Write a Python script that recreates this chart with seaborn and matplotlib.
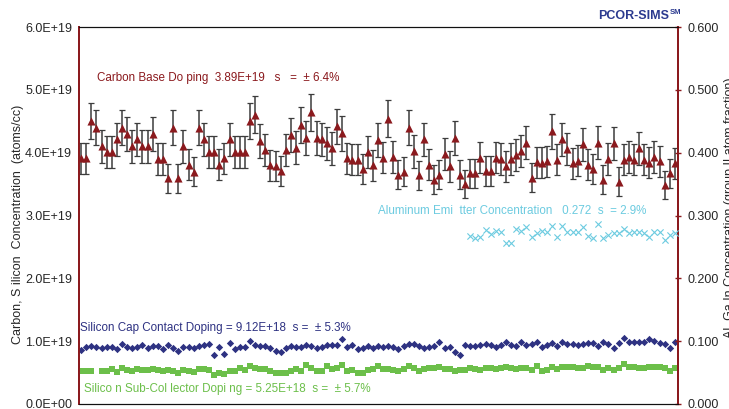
import numpy as np
import pandas as pd
import matplotlib
matplotlib.use("Agg")
import matplotlib.pyplot as plt
import seaborn as sns

# values (carbon / silicon in units of 1E19 atoms/cc)
carbon = [3.91, 3.91, 4.50, 4.40, 4.10, 4.01, 4.01, 4.21, 4.40, 4.30,
          4.10, 4.21, 4.10, 4.10, 4.30, 3.90, 3.90, 3.59, 4.40, 3.59,
          4.10, 3.81, 3.70, 4.40, 4.21, 4.01, 4.01, 3.81, 3.91, 4.21,
          4.01, 4.01, 4.01, 4.50, 4.60, 4.19, 4.04, 3.80, 3.79,
          3.71, 4.04, 4.28, 4.08, 4.44, 4.23, 4.64, 4.24, 4.21, 4.15,
          4.07, 4.42, 4.31, 3.91, 3.89, 3.89, 3.74, 4.01, 3.80, 4.20,
          3.92, 4.54, 3.93, 3.65, 3.70, 4.40, 4.02, 3.64, 4.21, 3.81,
          3.57, 3.65, 3.98, 3.78, 4.23, 3.65, 3.50, 3.67, 3.67,
          3.92, 3.71, 3.71, 3.92, 3.90, 3.78, 3.90, 3.96, 4.03, 4.16,
          3.60, 3.85, 3.84, 3.86, 4.34, 3.89, 4.21, 4.06, 3.83, 3.87,
          4.13, 3.81, 3.74, 4.16, 3.57, 3.90, 4.15, 3.54, 3.89, 3.93,
          3.89, 4.07, 3.89, 3.84, 3.93, 3.86, 3.49, 3.67, 3.83]

si_cap = [0.86, 0.91, 0.93, 0.90, 0.89, 0.90, 0.91, 0.87, 0.96, 0.90,
          0.89, 0.91, 0.94, 0.89, 0.92, 0.93, 0.87, 0.94, 0.89, 0.85,
          0.91, 0.90, 0.89, 0.93, 0.94, 0.96, 0.78, 0.90, 0.80, 0.97,
          0.87, 0.90, 0.90, 1.00, 0.94, 0.93, 0.92, 0.89, 0.85,
          0.82, 0.89, 0.93, 0.90, 0.90, 0.94, 0.92, 0.89, 0.90, 0.94,
          0.94, 0.94, 1.03, 0.90, 0.94, 0.87, 0.89, 0.92, 0.89, 0.93,
          0.90, 0.92, 0.91, 0.87, 0.92, 0.95, 0.95, 0.92, 0.89, 0.90,
          0.92, 0.98, 0.89, 0.90, 0.83, 0.78, 0.94, 0.92, 0.92,
          0.94, 0.96, 0.94, 0.90, 0.94, 0.99, 0.94, 0.92, 0.98, 0.94,
          0.96, 0.99, 0.90, 0.94, 0.97, 0.93, 0.99, 0.96, 0.96, 0.94,
          0.96, 0.97, 0.97, 0.92, 0.98, 0.96, 0.89, 0.97, 1.05, 0.99,
          0.98, 0.99, 0.98, 1.03, 1.00, 0.97, 0.96, 0.89, 0.99]

si_sub = [0.52, 0.53, 0.53, np.nan, 0.52, 0.52, 0.55, 0.51, 0.57, 0.54,
          0.52, 0.55, 0.54, 0.54, 0.55, 0.54, 0.52, 0.54, 0.53, 0.49,
          0.54, 0.53, 0.51, 0.55, 0.55, 0.54, 0.46, 0.50, 0.48, 0.53,
          0.53, 0.58, 0.54, 0.60, 0.57, 0.55, 0.55, 0.52, 0.49,
          0.49, 0.50, 0.53, 0.55, 0.53, 0.62, 0.58, 0.53, 0.53, 0.60,
          0.55, 0.57, 0.62, 0.52, 0.54, 0.50, 0.50, 0.54, 0.55, 0.60,
          0.55, 0.55, 0.54, 0.53, 0.55, 0.60, 0.57, 0.53, 0.55, 0.57,
          0.57, 0.59, 0.55, 0.55, 0.53, 0.54, 0.54, 0.57, 0.55,
          0.54, 0.57, 0.57, 0.55, 0.57, 0.59, 0.57, 0.55, 0.57, 0.57,
          0.54, 0.60, 0.52, 0.54, 0.59, 0.55, 0.59, 0.59, 0.59, 0.57,
          0.58, 0.60, 0.59, 0.59, 0.54, 0.58, 0.54, 0.58, 0.64, 0.59,
          0.59, 0.57, 0.57, 0.59, 0.59, 0.59, 0.58, 0.53, 0.58]

# aluminum atom fraction, measured on points 77..117 only
al_start = 77
aluminum = [0.267, 0.264, 0.266, 0.277, 0.271, 0.276, 0.273, 0.257, 0.257, 0.279,
            0.275, 0.281, 0.266, 0.272, 0.276, 0.273, 0.283, 0.265, 0.283, 0.274,
            0.274, 0.274, 0.281, 0.267, 0.264, 0.286, 0.264, 0.269, 0.272, 0.272,
            0.278, 0.272, 0.274, 0.274, 0.272, 0.266, 0.273, 0.273, 0.261, 0.269,
            0.272]

carbon_sigma = 0.064

left_ticks = [0, 1e19, 2e19, 3e19, 4e19, 5e19, 6e19]
right_ticks = [0.0, 0.1, 0.2, 0.3, 0.4, 0.5, 0.6]

n = len(carbon)
pos = np.arange(1, n + 1)
df = pd.DataFrame({
    "pos": pos,
    "carbon": np.array(carbon) * 1e19,
    "cap": np.array(si_cap) * 1e19,
    "sub": np.array(si_sub) * 1e19,
})
df_al = pd.DataFrame({"pos": np.arange(al_start, al_start + len(aluminum)),
                      "al": aluminum})

sns.set_style("white")
plt.rcParams["font.family"] = ["Liberation Sans", "DejaVu Sans"]

red = "#8b1a1e"
navy = "#2e3282"
green = "#6cbf4a"
cyan = "#6ccbe0"

fig = plt.figure(figsize=(7.29, 4.09), dpi=100)
ax = fig.add_axes([79 / 729, 1 - 404 / 409, (677.5 - 79) / 729, (404 - 27) / 409])

# carbon with +/- sigma error bars
ax.errorbar(df["pos"], df["carbon"], yerr=df["carbon"] * carbon_sigma, fmt="none",
            ecolor="#3c3c3c", elinewidth=1.1, capsize=2.2, capthick=0.9, zorder=2)
sns.scatterplot(data=df, x="pos", y="carbon", marker="^", s=34, color=red,
                edgecolor=red, linewidth=0, ax=ax, zorder=3)
sns.scatterplot(data=df, x="pos", y="cap", marker="D", s=14, color=navy,
                edgecolor=navy, linewidth=0, ax=ax, zorder=3)
sns.scatterplot(data=df, x="pos", y="sub", marker="s", s=17, color=green,
                edgecolor=green, linewidth=0, ax=ax, zorder=3)

ax.set_xlim(0.6, n + 0.5)
ax.set_ylim(0, 6e19)
ax.set_yticks(left_ticks)
ax.set_yticklabels(["{:.1E}".format(t) for t in left_ticks])
ax.set_xticks(pos)
ax.set_xticklabels([])
ax.set_xlabel("")
ax.set_ylabel("Carbon, S ilicon  Concentration  (atoms/cc)", fontsize=9, labelpad=0)
ax.yaxis.set_label_coords(-0.092, 0.477)
ax.tick_params(axis="y", length=0, pad=5, labelsize=9)
ax.tick_params(axis="x", direction="out", length=2.5, width=0.6, color="#222222")

ax2 = ax.twinx()
sns.scatterplot(data=df_al, x="pos", y="al", marker="x", s=20, color=cyan,
                linewidth=0.8, ax=ax2, zorder=3)
ax2.set_ylim(0, 0.6)
ax2.set_yticks(right_ticks)
ax2.set_yticklabels(["{:.3f}".format(t) for t in right_ticks])
ax2.set_xlim(0.6, n + 0.5)
ax2.set_ylabel("Al, Ga In Concentration (group II atom fraction)", fontsize=9)
ax2.yaxis.set_label_coords(1.078, 0.52)
ax2.tick_params(axis="y", direction="inout", length=5, width=1, color=red,
                pad=5, labelsize=9)

for a in (ax, ax2):
    a.spines["left"].set_color(red)
    a.spines["right"].set_color(red)
    a.spines["left"].set_linewidth(1.4)
    a.spines["right"].set_linewidth(1.4)
    a.spines["top"].set_color("#111111")
    a.spines["top"].set_linewidth(0.8)
    a.spines["bottom"].set_color("#111111")
    a.spines["bottom"].set_linewidth(0.8)

# annotations
fs = 8.4
ax.text((97 - 79) / 598.5, (404 - 78) / 377, "Carbon Base Do ping  3.89E+19   s   =  \u00b1 6.4%",
        transform=ax.transAxes, color=red, fontsize=fs, va="center", ha="left")
ax.text((378 - 79) / 598.5, (404 - 211) / 377, "Aluminum Emi  tter Concentration   0.272  s  = 2.9%",
        transform=ax.transAxes, color=cyan, fontsize=fs, va="center", ha="left")
ax.text((80 - 79) / 598.5, (404 - 328) / 377, "Silicon Cap Contact Doping = 9.12E+18  s =  \u00b1 5.3%",
        transform=ax.transAxes, color=navy, fontsize=fs, va="center", ha="left")
ax.text((84 - 79) / 598.5, (404 - 389) / 377, "Silico n Sub-Col lector Dopi ng = 5.25E+18  s =  \u00b1 5.7%",
        transform=ax.transAxes, color=green, fontsize=fs, va="center", ha="left")

fig.text(669 / 729, 1 - 16 / 409, "PCOR-SIMS", color="#2b3a8f", fontsize=9,
         fontweight="bold", ha="right", va="center")
fig.text(669.5 / 729, 1 - 12 / 409, "SM", color="#2b3a8f", fontsize=5.5,
         fontweight="bold", ha="left", va="center")

fig.savefig("out.png", dpi=100)
